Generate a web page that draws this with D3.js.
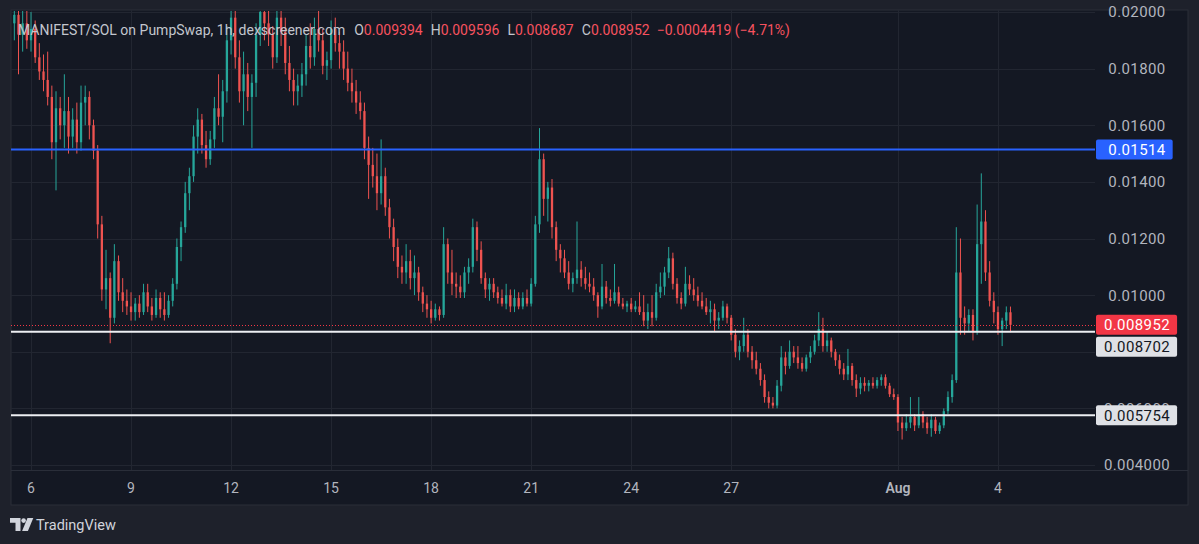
<!DOCTYPE html>
<html>
<head>
<meta charset="utf-8">
<script src="https://cdn.jsdelivr.net/npm/d3@7"></script>
<style>
  html, body { margin: 0; padding: 0; background: #1e212b; }
  svg { display: block; font-family: -apple-system, "Roboto", "Noto Sans", sans-serif; }
</style>
</head>
<body>
<div id="chart"></div>
<script>
// 3h candles, prices in units of 0.0001 SOL
const startTime = Date.UTC(2025, 6, 5, 12);
const stepHours = 3;
const firstOpen = 196;

const closes = [
  199,192,196,190,
  194,184,179,176,170,154,166,160,
  165,156,162,154,168,170,160,151,
  125,102,106,92,112,101,98,96,
  94,97,94,101,96,93,99,95,
  93,98,104,117,124,136,142,156,
  162,153,148,155,166,163,172,190,
  198,184,172,178,170,175,192,200,
  196,192,184,198,193,182,176,172,
  174,178,188,184,194,190,181,183,
  194,189,186,180,175,172,168,165,
  152,146,142,136,142,131,124,117,
  110,108,112,106,108,101,97,95,
  92,95,93,118,108,104,103,101,
  108,110,124,116,106,102,104,101,
  99,97,100,96,99,96,99,97,
  104,125,148,134,138,124,116,113,
  108,104,106,109,106,104,103,100,
  96,103,99,98,101,97,96,97,
  95,96,94,91,94,92,101,103,
  108,113,104,99,97,104,102,100,
  98,96,94,95,91,92,96,92,
  86,80,82,86,80,77,74,70,
  64,62,61,68,78,75,80,78,
  76,74,78,80,84,88,82,84,
  80,77,74,72,75,70,67,69,
  68,69,68,70,71,68,65,64,
  55,53,55,57,54,58,55,53,
  56,52,54,59,64,70,108,92,
  90,93,87,118,126,108,98,94,
  88,91,93.94,89.52
];

const highs = [
  203,203,201,201,
  200,197,189,185,186,174,172,170,
  178,170,166,168,174,174,172,162,
  153,128,116,108,118,114,106,102,
  101,99,100,104,104,99,102,101,
  101,100,106,120,126,140,145,160,
  166,164,158,158,170,178,176,195,
  205,203,190,186,182,178,196,205,
  205,203,195,204,205,198,188,180,
  178,182,192,196,198,205,194,186,
  197,198,193,190,186,180,176,172,
  168,156,152,150,155,145,134,127,
  120,114,118,116,114,110,103,100,
  98,97,96,124,120,116,108,107,
  110,113,127,126,119,108,106,106,
  103,102,104,102,102,101,101,102,
  106,128,159,150,140,141,126,118,
  116,112,108,126,112,110,108,106,
  101,111,105,102,111,103,99,98,
  99,98,101,100,97,100,104,108,
  110,117,115,106,101,110,107,106,
  103,101,99,98,97,94,98,97,
  93,88,84,92,88,82,80,76,
  72,66,64,70,82,80,84,82,
  82,78,79,82,86,94,92,87,
  85,81,79,76,81,76,72,71,
  71,70,71,71,72,72,69,67,
  65,57,58,64,58,64,59,57,
  58,57,55,60,66,72,124,120,
  96,95,95,132,143,130,112,101,
  96,92,96,95.96
];

const lows = [
  190,178,186,187,
  186,182,176,172,167,148,137,155,
  152,150,152,150,151,160,155,148,
  120,98,95,83,90,98,94,93,
  91,91,92,93,94,91,92,92,
  91,92,96,102,112,122,130,140,
  150,150,145,146,152,160,154,168,
  185,180,168,160,165,152,170,188,
  190,188,180,182,188,178,172,167,
  167,170,174,180,181,186,178,176,
  180,186,180,176,172,168,164,162,
  148,134,138,130,132,128,120,112,
  106,104,104,102,100,98,94,92,
  90,91,91,92,104,100,99,99,
  99,104,108,112,104,99,98,99,
  97,96,95,94,94,95,95,96,
  96,103,122,128,126,120,112,108,
  106,102,101,104,103,102,101,98,
  92,95,97,96,97,96,95,94,
  94,94,93,89,88,89,91,99,
  100,106,102,97,95,96,100,98,
  96,95,93,90,87,88,91,90,
  84,78,77,80,78,74,72,68,
  62,60,60,60,66,72,74,76,
  74,73,73,76,79,82,80,80,
  78,75,72,70,70,68,64,65,
  66,66,67,67,68,67,64,63,
  52,49,52,53,52,53,53,51,
  50,51,51,53,58,62,69,86,
  86,87,84,86,104,105,96,90,
  86,82,88,86.87
];

const priceTicks = [0.004, 0.006, 0.008, 0.010, 0.012, 0.014, 0.016, 0.018, 0.020];
const timeTicks = [
  Date.UTC(2025,6,6), Date.UTC(2025,6,9), Date.UTC(2025,6,12), Date.UTC(2025,6,15),
  Date.UTC(2025,6,18), Date.UTC(2025,6,21), Date.UTC(2025,6,24), Date.UTC(2025,6,27),
  Date.UTC(2025,7,1), Date.UTC(2025,7,4)
];
const timeLabels = ["6","9","12","15","18","21","24","27","Aug","4"];

const resistanceLevel = 0.01514;
const supportLevels = [0.008702, 0.005754];
const lastPrice = 0.008952;

const titleText = "MANIFEST/SOL on PumpSwap, 1h, dexscreener.com";
const ohlcKeys = ["O", "H", "L", "C"];
const ohlcValues = ["0.009394", "0.009596", "0.008687", "0.008952"];
const changeText = "\u22120.0004419 (\u22124.71%)";

// ---- layout
const W = 1199, H = 544;
const panel = {left: 11, top: 10, right: 1188, bottom: 505};
const plot = {left: 11, top: 10, right: 1095, bottom: 470};
const upColor = "#26a69a", downColor = "#ef5350";

const svg = d3.select("#chart").append("svg")
  .attr("width", W).attr("height", H);

svg.append("rect").attr("width", W).attr("height", H).attr("fill", "#1e212b");

svg.append("rect")
  .attr("x", panel.left).attr("y", panel.top)
  .attr("width", panel.right - panel.left).attr("height", panel.bottom - panel.top)
  .attr("fill", "#141823")
  .attr("stroke", "#2a2e39").attr("stroke-width", 1);

const x = d3.scaleUtc()
  .domain([new Date(Date.UTC(2025,6,5,9,36)), new Date(Date.UTC(2025,7,6,21,50))])
  .range([plot.left, plot.right]);

const y = d3.scaleLinear()
  .domain([0.004, 0.020])
  .range([465, 12]);

const fmt = d3.format(".4r");

svg.append("defs").append("clipPath").attr("id", "plotClip")
  .append("rect")
  .attr("x", plot.left).attr("y", plot.top + 1)
  .attr("width", plot.right - plot.left).attr("height", plot.bottom - plot.top - 1);

// grid
const grid = svg.append("g");
grid.selectAll(".hg").data(priceTicks).join("line")
  .attr("x1", plot.left).attr("x2", plot.right)
  .attr("y1", d => Math.round(y(d)) + 0.5).attr("y2", d => Math.round(y(d)) + 0.5)
  .attr("stroke", "#222631").attr("stroke-width", 1);
grid.selectAll(".vg").data(timeTicks).join("line")
  .attr("x1", d => Math.round(x(d)) + 0.5).attr("x2", d => Math.round(x(d)) + 0.5)
  .attr("y1", plot.top).attr("y2", plot.bottom)
  .attr("stroke", "#222631").attr("stroke-width", 1);

// time axis separator
svg.append("line")
  .attr("x1", panel.left).attr("x2", panel.right)
  .attr("y1", plot.bottom + 0.5).attr("y2", plot.bottom + 0.5)
  .attr("stroke", "#2a2e39");

// candles
const candles = closes.map((c, i) => ({
  t: new Date(startTime + i * stepHours * 3600e3),
  o: (i === 0 ? firstOpen : closes[i - 1]) / 1e4,
  h: highs[i] / 1e4,
  l: lows[i] / 1e4,
  c: c / 1e4
}));

const slot = x(new Date(startTime + stepHours * 3600e3)) - x(new Date(startTime));
const bodyW = Math.max(1, slot * 0.55);

const cg = svg.append("g").attr("clip-path", "url(#plotClip)");
const candleG = cg.selectAll("g.candle").data(candles).join("g")
  .attr("class", "candle");

candleG.append("line")
  .attr("x1", d => x(d.t)).attr("x2", d => x(d.t))
  .attr("y1", d => y(d.h)).attr("y2", d => y(d.l))
  .attr("stroke", d => d.c >= d.o ? upColor : downColor)
  .attr("stroke-width", 1);

candleG.append("rect")
  .attr("x", d => x(d.t) - bodyW / 2)
  .attr("y", d => y(Math.max(d.o, d.c)))
  .attr("width", bodyW)
  .attr("height", d => Math.max(1, Math.abs(y(d.o) - y(d.c))))
  .attr("fill", d => d.c >= d.o ? upColor : downColor);

// horizontal levels
cg.append("line")
  .attr("x1", plot.left).attr("x2", plot.right)
  .attr("y1", y(resistanceLevel)).attr("y2", y(resistanceLevel))
  .attr("stroke", "#2962ff").attr("stroke-width", 2);

cg.selectAll(".sup").data(supportLevels).join("line")
  .attr("x1", plot.left).attr("x2", plot.right)
  .attr("y1", d => y(d)).attr("y2", d => y(d))
  .attr("stroke", "#eceef2").attr("stroke-width", 2);

cg.append("line")
  .attr("x1", plot.left).attr("x2", plot.right)
  .attr("y1", Math.round(y(lastPrice)) + 0.5).attr("y2", Math.round(y(lastPrice)) + 0.5)
  .attr("stroke", "#f23645").attr("stroke-width", 1)
  .attr("stroke-dasharray", "1,2");

// price tags (placed first so hidden axis labels can be skipped)
const tags = [
  {v: resistanceLevel, bg: "#2962ff", fg: "#ffffff"},
  {v: lastPrice, bg: "#f23645", fg: "#ffffff"},
  {v: supportLevels[0], bg: "#dfe1e6", fg: "#131722"},
  {v: supportLevels[1], bg: "#dfe1e6", fg: "#131722"}
];
tags.forEach(t => t.cy = y(t.v));
tags.sort((a, b) => a.cy - b.cy);
const tagH = 20;
for (let i = 1; i < tags.length; i++) {
  const minY = tags[i - 1].cy + tagH + 2;
  if (tags[i].cy < minY) tags[i].cy = minY;
}

// price axis labels; a label fully under a tag is not drawn, as in the app
const axisX = 1137;
const labelSize = 15;
const shownTicks = priceTicks.filter(v => !tags.some(t => Math.abs(t.cy - y(v)) < 5));
svg.append("g").selectAll("text").data(shownTicks).join("text")
  .attr("x", axisX).attr("y", d => y(d))
  .attr("dy", "0.36em")
  .attr("text-anchor", "middle")
  .attr("fill", "#b2b5be")
  .attr("font-size", labelSize)
  .attr("letter-spacing", 0.4)
  .text(d => fmt(d));

const tagG = svg.append("g").selectAll("g").data(tags).join("g");
tagG.append("text")
  .attr("x", axisX).attr("y", d => d.cy).attr("dy", "0.36em")
  .attr("text-anchor", "middle")
  .attr("font-size", labelSize)
  .attr("letter-spacing", 0.4)
  .attr("fill", d => d.fg)
  .text(d => fmt(d.v));
tagG.each(function(d) {
  const txt = d3.select(this).select("text");
  const w = txt.node().getComputedTextLength();
  d3.select(this).insert("rect", "text")
    .attr("x", 1096)
    .attr("y", d.cy - tagH / 2)
    .attr("width", (axisX - 1096) + w / 2 + 7)
    .attr("height", tagH)
    .attr("rx", 2)
    .attr("fill", d.bg);
});

// time axis labels
svg.append("g").selectAll("text").data(timeTicks).join("text")
  .attr("x", d => x(d)).attr("y", 488).attr("dy", "0.36em")
  .attr("text-anchor", "middle")
  .attr("fill", "#b2b5be")
  .attr("font-size", 14)
  .attr("font-weight", (d, i) => timeLabels[i] === "Aug" ? 600 : 400)
  .text((d, i) => timeLabels[i]);

// legend
const legend = svg.append("text")
  .attr("x", 18).attr("y", 35)
  .attr("font-size", 14)
  .attr("fill", "#c3c6ce");
legend.append("tspan").text(titleText);
ohlcKeys.forEach((k, i) => {
  legend.append("tspan").attr("dx", i === 0 ? 9 : 8).text(k);
  legend.append("tspan").attr("fill", "#f7525f").text(ohlcValues[i]);
});
legend.append("tspan").attr("dx", 7).attr("fill", "#f7525f").text(changeText);

// TradingView mark
const logo = svg.append("g").attr("fill", "#d1d4dc");
logo.append("path").attr("d", "M10,518 h10.5 v13 h-5 v-8.2 h-5.5 z");
logo.append("circle").attr("cx", 23.6).attr("cy", 520.6).attr("r", 2.3);
logo.append("path").attr("d", "M27.5,518 h5.8 l-5.4,13 h-5.8 z");
svg.append("text")
  .attr("x", 36).attr("y", 530)
  .attr("font-size", 14.5)
  .attr("fill", "#d1d4dc")
  .text("TradingView");
</script>
</body>
</html>
